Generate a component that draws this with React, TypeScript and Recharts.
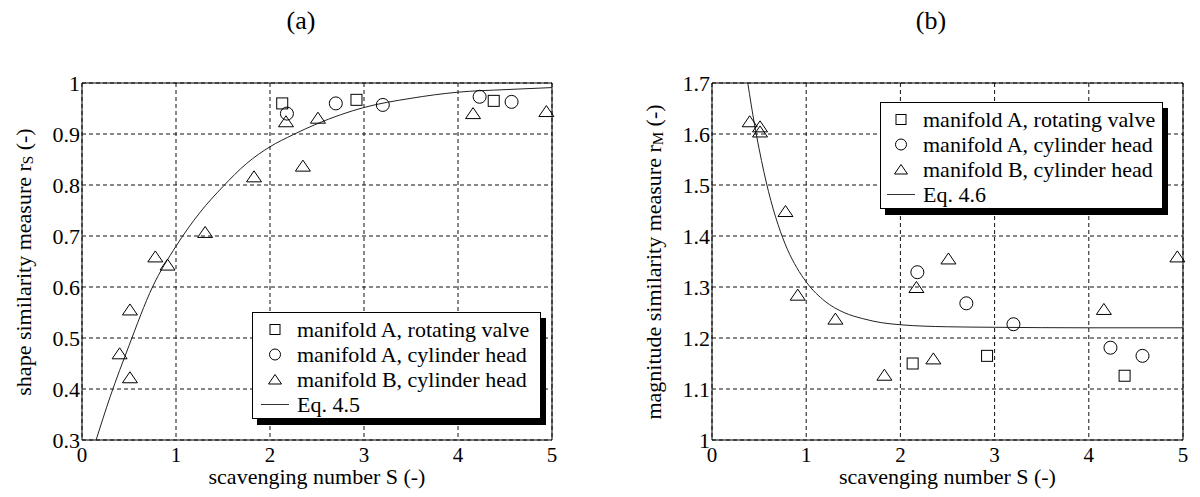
import React from "react";
import {
  ComposedChart,
  Scatter,
  Line,
  XAxis,
  YAxis,
  CartesianGrid,
  ReferenceArea,
  Legend,
} from "recharts";

const FONT = '"Liberation Serif", "Times New Roman", serif';

// scavenging number S for each measured case
const squareS = [2.13, 2.92, 4.38];
const circleS = [2.18, 2.7, 3.2, 4.23, 4.57];
const triangleS = [0.4, 0.51, 0.51, 0.78, 0.91, 1.31, 1.83, 2.17, 2.35, 2.51, 4.16, 4.94];

// shape similarity r_S
const squareRS = [0.96, 0.967, 0.965];
const circleRS = [0.94, 0.96, 0.957, 0.973, 0.963];
const triangleRS = [0.469, 0.555, 0.422, 0.659, 0.643, 0.707, 0.816, 0.924, 0.837, 0.931, 0.94, 0.944];

// magnitude similarity r_M
const squareRM = [1.15, 1.165, 1.126];
const circleRM = [1.329, 1.268, 1.227, 1.181, 1.165];
const triangleRM = [1.624, 1.614, 1.604, 1.448, 1.284, 1.237, 1.127, 1.299, 1.159, 1.355, 1.256, 1.359];

// Eq. 4.5 curve
const eq45S = [0.15, 0.3, 0.5, 0.75, 1.0, 1.25, 1.5, 1.75, 2.0, 2.25, 2.5, 3.0, 3.5, 4.0, 4.5, 5.0];
const eq45R = [0.3, 0.385, 0.485, 0.6, 0.68, 0.745, 0.797, 0.842, 0.875, 0.899, 0.92, 0.952, 0.97, 0.982, 0.987, 0.991];

// Eq. 4.6 curve
const eq46S = [0.38, 0.45, 0.5, 0.6, 0.7, 0.8, 0.9, 1.0, 1.2, 1.4, 1.6, 1.8, 2.0, 2.5, 3.0, 4.0, 5.0];
const eq46R = [1.7, 1.62, 1.571, 1.487, 1.423, 1.374, 1.338, 1.31, 1.272, 1.25, 1.238, 1.23, 1.226, 1.222, 1.221, 1.22, 1.22];

const xTicks = [0, 1, 2, 3, 4, 5];
const rsTicks = [0.3, 0.4, 0.5, 0.6, 0.7, 0.8, 0.9, 1];
const rmTicks = [1, 1.1, 1.2, 1.3, 1.4, 1.5, 1.6, 1.7];

const legendNames = [
  "manifold A, rotating valve",
  "manifold A, cylinder head",
  "manifold B, cylinder head",
];

const zip = (s: number[], r: number[]) => s.map((v, i) => ({ s: v, r: r[i] }));

const SquareMark = (p: any) => (
  <rect x={p.cx - 5.5} y={p.cy - 5.5} width={11} height={11} fill="none" stroke="#000" strokeWidth={1} />
);
const CircleMark = (p: any) => <circle cx={p.cx} cy={p.cy} r={6.5} fill="none" stroke="#000" strokeWidth={1} />;
const TriangleMark = (p: any) => (
  <polygon
    points={`${p.cx - 7.5},${p.cy + 5} ${p.cx + 7.5},${p.cy + 5} ${p.cx},${p.cy - 6}`}
    fill="none"
    stroke="#000"
    strokeWidth={1}
  />
);

function LegendBox({ eqName, width, symX }: { eqName: string; width: number; symX: number }) {
  const sym = (i: number) => {
    if (i === 0) return <rect x={symX - 5} y={7.5} width={10} height={10} fill="none" stroke="#000" />;
    if (i === 1) return <circle cx={symX} cy={12.5} r={5.5} fill="none" stroke="#000" />;
    if (i === 2) return <polygon points={`${symX - 6.5},17 ${symX + 6.5},17 ${symX},7.5`} fill="none" stroke="#000" />;
    return <line x1={symX - 14} x2={symX + 14} y1={12.5} y2={12.5} stroke="#333" />;
  };
  const rows = [...legendNames, eqName];
  return (
    <div
      style={{
        boxSizing: "border-box",
        width,
        height: 107,
        border: "1px solid #000",
        background: "#fff",
        boxShadow: "5px 6px 0 #000",
        fontFamily: FONT,
        fontSize: 22,
        color: "#000",
        paddingTop: 4,
      }}
    >
      {rows.map((name, i) => (
        <div key={name} style={{ display: "flex", alignItems: "center", height: 25 }}>
          <svg width={symX + 22} height={25} style={{ flex: "none" }}>
            {sym(i)}
          </svg>
          <span style={{ whiteSpace: "nowrap", lineHeight: "25px" }}>{name}</span>
        </div>
      ))}
    </div>
  );
}

function Panel(props: {
  left: number;
  marginLeft: number;
  marginRight: number;
  domain: [number, number];
  ticks: number[];
  sq: number[];
  ci: number[];
  tr: number[];
  curveS: number[];
  curveR: number[];
  yName: string;
  sub: string;
  eqName: string;
  legendLeft: number;
  legendTop: number;
  legendWidth: number;
  symX: number;
}) {
  const tickStyle = { fontSize: 22, fill: "#000", fontFamily: FONT };
  const xTickStyle = { fontSize: 21, fill: "#000", fontFamily: FONT };
  const plotLeft = props.marginLeft + 82;
  const plotRight = 600 - props.marginRight;
  const yLabel = () => {
    const x = props.marginLeft + 23;
    const y = 262;
    return (
      <text
        x={x}
        y={y}
        transform={`rotate(-90, ${x}, ${y})`}
        textAnchor="middle"
        dominantBaseline="central"
        fontFamily={FONT}
        fontSize={22}
        fill="#000"
      >
        {props.yName}
        <tspan fontSize={15} dy={5}>
          {props.sub}
        </tspan>
        <tspan dy={-5}> (-)</tspan>
      </text>
    );
  };
  const xLabel = () => (
    <text
      x={(plotLeft + plotRight) / 2}
      y={484}
      textAnchor="middle"
      fontFamily={FONT}
      fontSize={22}
      fill="#000"
    >
      scavenging number S (-)
    </text>
  );
  return (
    <div style={{ position: "absolute", left: props.left, top: 0 }}>
      <ComposedChart
        width={600}
        height={497}
        margin={{ top: 83, right: props.marginRight, bottom: 0, left: props.marginLeft }}
      >
        <CartesianGrid stroke="#111" strokeDasharray="4 3" />
        <XAxis
          type="number"
          dataKey="s"
          domain={[0, 5]}
          ticks={xTicks}
          height={57}
          tickSize={0}
          tickMargin={7}
          tickLine={false}
          axisLine={false}
          tick={xTickStyle}
          label={{ content: xLabel }}
        />
        <YAxis
          type="number"
          dataKey="r"
          domain={props.domain}
          ticks={props.ticks}
          width={82}
          tickSize={0}
          tickMargin={2}
          tickLine={false}
          axisLine={false}
          tick={tickStyle}
          tickFormatter={(v: number) => (Number.isInteger(v) ? String(v) : v.toFixed(1))}
          allowDataOverflow
          label={{ content: yLabel }}
        />
        <ReferenceArea
          x1={0}
          x2={5}
          y1={props.domain[0]}
          y2={props.domain[1]}
          fill="none"
          stroke="#000"
          strokeWidth={1}
          fillOpacity={0}
        />
        <Line
          data={zip(props.curveS, props.curveR)}
          dataKey="r"
          type="monotone"
          stroke="#222"
          strokeWidth={1}
          dot={false}
          activeDot={false}
          isAnimationActive={false}
        />
        <Scatter data={zip(squareS, props.sq)} shape={SquareMark} isAnimationActive={false} />
        <Scatter data={zip(circleS, props.ci)} shape={CircleMark} isAnimationActive={false} />
        <Scatter data={zip(triangleS, props.tr)} shape={TriangleMark} isAnimationActive={false} />
        <Legend
          layout="vertical"
          align="center"
          verticalAlign="middle"
          wrapperStyle={{ left: props.legendLeft, top: props.legendTop, width: props.legendWidth + 6 }}
          content={() => <LegendBox eqName={props.eqName} width={props.legendWidth} symX={props.symX} />}
        />
      </ComposedChart>
    </div>
  );
}

export default function App() {
  return (
    <div
      style={{
        position: "relative",
        width: 1200,
        height: 497,
        margin: -8,
        background: "#fff",
      }}
    >
      <div style={{ position: "absolute", left: 301, top: 21, transform: "translate(-50%, -50%)", fontFamily: FONT, fontSize: 26 }}>
        (a)
      </div>
      <div style={{ position: "absolute", left: 931, top: 21, transform: "translate(-50%, -50%)", fontFamily: FONT, fontSize: 26 }}>
        (b)
      </div>
      <Panel
        left={0}
        marginLeft={0}
        marginRight={48}
        domain={[0.3, 1]}
        ticks={rsTicks}
        sq={squareRS}
        ci={circleRS}
        tr={triangleRS}
        curveS={eq45S}
        curveR={eq45R}
        yName="shape similarity measure r"
        sub="S"
        eqName="Eq. 4.5"
        legendLeft={252}
        legendTop={312}
        legendWidth={289}
        symX={22}
      />
      <Panel
        left={600}
        marginLeft={30}
        marginRight={17}
        domain={[1, 1.7]}
        ticks={rmTicks}
        sq={squareRM}
        ci={circleRM}
        tr={triangleRM}
        curveS={eq46S}
        curveR={eq46R}
        yName="magnitude similarity measure r"
        sub="M"
        eqName="Eq. 4.6"
        legendLeft={280}
        legendTop={102}
        legendWidth={283}
        symX={20}
      />
    </div>
  );
}
